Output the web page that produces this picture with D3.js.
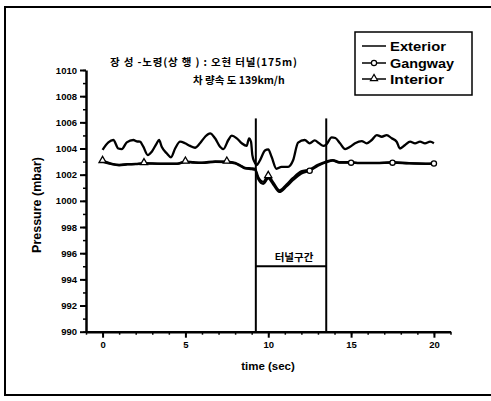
<!DOCTYPE html>
<html><head><meta charset="utf-8">
<script src="https://cdn.jsdelivr.net/npm/d3@7"></script>
<style>
body{margin:0;background:#fff;}
svg text{font-family:"Liberation Sans",Arial,sans-serif;font-weight:bold;fill:#000;}
.kr{font-family:"Noto Sans CJK KR","Liberation Sans",sans-serif;}
</style></head><body>
<script>
const titleLine1 = "장 성 -노령(상 행 ) : 오현 터널(175m)";
const titleLine2 = "차 량속 도  139km/h";
const seriesNames = ["Exterior","Gangway","Interior"];
const xTicks = [0,5,10,15,20];
const yTicks = [990,992,994,996,998,1000,1002,1004,1006,1008,1010];
const tunnelStart = 9.25, tunnelEnd = 13.5, tunnelTop = 1006.3, tunnelLevel = 995;
const tunnelLabel = "터널구간";

const extTime = [0,0.35,0.65,0.95,1.16,1.46,1.86,2.06,2.26,2.46,2.73,2.97,3.27,3.41,3.57,3.87,4.13,4.38,4.68,4.98,5.28,5.58,5.88,6.19,6.49,6.79,7.09,7.29,7.59,7.8,8.1,8.4,8.7,8.84,8.96,9.04,9.16,9.3,9.5,9.8,10.0,10.2,10.5,10.8,11.2,11.5,11.8,12.2,12.5,12.8,13.07,13.33,13.5,13.83,14.05,14.33,14.64,14.94,15.24,15.64,15.94,16.25,16.55,16.85,17.15,17.45,17.75,17.95,18.26,18.56,18.86,19.16,19.46,19.77,20.0];
const extValues = [1003.9,1004.47,1004.65,1004.0,1003.96,1004.47,1004.65,1004.55,1004.52,1004.14,1003.5,1003.76,1004.4,1004.65,1004.14,1003.63,1003.33,1004.0,1004.52,1004.4,1004.2,1004.06,1004.4,1004.9,1005.16,1004.78,1004.14,1003.96,1004.65,1004.98,1004.78,1004.4,1004.2,1004.78,1004.52,1003.5,1003.0,1002.74,1003.1,1003.85,1003.94,1003.37,1002.45,1002.6,1002.6,1003.1,1004.45,1004.65,1004.4,1004.62,1004.4,1004.2,1004.3,1004.85,1004.8,1004.4,1003.96,1004.14,1004.4,1004.57,1004.4,1004.65,1005.03,1004.9,1005.03,1004.78,1004.52,1004.0,1004.27,1004.52,1004.4,1004.52,1004.4,1004.52,1004.4];

const intTime = [0,0.5,1.0,1.5,2.0,2.5,3.5,4.5,5.0,5.5,6.0,6.8,7.5,8.0,8.3,8.6,9.0,9.2,9.4,9.7,10.0,10.3,10.67,11.1,11.5,12.0,12.5,13.0,13.5,13.9,14.3,15.0,15.5,16.5,17.5,18.5,19.5,20.0];
const intValues = [1003.05,1002.85,1002.75,1002.8,1002.82,1002.88,1002.85,1002.85,1003.0,1002.95,1002.92,1003.02,1003.0,1002.9,1002.72,1002.52,1002.48,1002.45,1001.8,1001.45,1001.9,1001.4,1000.8,1001.25,1001.75,1002.25,1002.4,1002.75,1003.0,1003.12,1002.95,1002.95,1002.9,1002.9,1002.95,1002.88,1002.85,1002.87];

const gangTime = [0,0.5,1.0,1.5,2.0,2.5,3.5,4.5,5.0,5.5,6.0,6.8,7.5,8.0,8.3,8.6,9.0,9.2,9.4,9.7,10.0,10.3,10.67,11.1,11.5,12.0,12.5,13.0,13.5,13.9,14.3,15.0,15.5,16.5,17.5,18.5,19.5,20.0];
const gangValues = [1003.0,1002.82,1002.72,1002.78,1002.8,1002.85,1002.83,1002.83,1002.97,1002.92,1002.9,1002.98,1002.97,1002.86,1002.68,1002.48,1002.42,1002.38,1001.65,1001.3,1001.72,1001.25,1000.68,1001.1,1001.6,1002.1,1002.3,1002.68,1002.95,1003.08,1002.92,1002.92,1002.88,1002.88,1002.92,1002.86,1002.83,1002.85];

const markerTimes = [0,2.5,5,7.5,10,12.5,15,17.5,20];

const W = 491, H = 401;
const svg = d3.select("body").append("svg").attr("width",W).attr("height",H);

// outer frame
svg.append("rect").attr("x",5).attr("y",7).attr("width",W).attr("height",388)
  .attr("fill","none").attr("stroke","#000").attr("stroke-width",2);

const x = d3.scaleLinear().domain([-1,21]).range([86,450.5]);
const y = d3.scaleLinear().domain([990,1010]).range([331.7,70]);

// minor ticks
const xMinor = d3.range(-1,22,1);
svg.append("g").attr("transform",`translate(0,${y(990)})`)
  .call(d3.axisBottom(x).tickValues(xMinor).tickSize(3).tickFormat(""))
  .call(g=>g.select(".domain").remove())
  .selectAll("line").attr("stroke-width",1.5);
const yMinor = d3.range(990,1011,1);
svg.append("g").attr("transform",`translate(${x(-1)},0)`)
  .call(d3.axisLeft(y).tickValues(yMinor).tickSize(3).tickFormat(""))
  .call(g=>g.select(".domain").remove())
  .selectAll("line").attr("stroke-width",1.5);

// major axes
const xAxis = svg.append("g").attr("transform",`translate(0,${y(990)})`)
  .call(d3.axisBottom(x).tickValues(xTicks).tickFormat(d3.format("d")).tickSize(6).tickSizeOuter(0).tickPadding(4));
const yAxis = svg.append("g").attr("transform",`translate(${x(-1)},0)`)
  .call(d3.axisLeft(y).tickValues(yTicks).tickFormat(d3.format("d")).tickSize(6).tickSizeOuter(0).tickPadding(3));
[xAxis,yAxis].forEach(a=>{
  a.select(".domain").attr("stroke-width",2.5);
  a.selectAll(".tick line").attr("stroke-width",2);
  a.selectAll("text").style("font-size","9.5px").style("font-weight","bold").attr("font-family","Liberation Sans");
});

// axis labels
svg.append("text").attr("x",268).attr("y",370).attr("text-anchor","middle")
  .style("font-size","11.5px").text("time (sec)");
svg.append("text").attr("transform","translate(41,205) rotate(-90)").attr("text-anchor","middle")
  .style("font-size","12.5px").text("Pressure (mbar)");

// tunnel markers
const tun = svg.append("g").attr("stroke","#000").attr("stroke-width",2);
tun.append("line").attr("x1",x(tunnelStart)).attr("x2",x(tunnelStart)).attr("y1",y(tunnelTop)).attr("y2",y(990));
tun.append("line").attr("x1",x(tunnelEnd)).attr("x2",x(tunnelEnd)).attr("y1",y(tunnelTop)).attr("y2",y(990));
tun.append("line").attr("x1",x(tunnelStart)).attr("x2",x(tunnelEnd)).attr("y1",y(tunnelLevel)).attr("y2",y(tunnelLevel));
svg.append("text").attr("class","kr").attr("x",x((tunnelStart+tunnelEnd)/2)+3).attr("y",y(tunnelLevel)-5)
  .attr("text-anchor","middle").style("font-size","10.5px").text(tunnelLabel);

// lines
const line = d3.line().x(d=>x(d[0])).y(d=>y(d[1])).curve(d3.curveMonotoneX);
const ext = extTime.map((t,i)=>[t,extValues[i]]);
const intr = intTime.map((t,i)=>[t,intValues[i]]);
const gang = gangTime.map((t,i)=>[t,gangValues[i]]);
[ext,gang,intr].forEach(data=>{
  svg.append("path").datum(data).attr("d",line).attr("fill","none")
    .attr("stroke","#000").attr("stroke-width",2.3).attr("stroke-linejoin","round");
});

function interp(arrT, arrV, t){
  for(let i=0;i<arrT.length-1;i++){
    if(t>=arrT[i] && t<=arrT[i+1]){
      const f=(t-arrT[i])/(arrT[i+1]-arrT[i]);
      return arrV[i]+f*(arrV[i+1]-arrV[i]);
    }
  }
  return arrV[arrV.length-1];
}
// markers
markerTimes.forEach((t,i)=>{
  if(i<5){
    const v = interp(intTime,intValues,t);
    svg.append("path").attr("d",d3.symbol(d3.symbolTriangle,22)())
      .attr("transform",`translate(${x(t)},${y(v)-0.5})`)
      .attr("fill","#fff").attr("stroke","#000").attr("stroke-width",1.3);
  } else {
    const v = interp(gangTime,gangValues,t);
    svg.append("circle").attr("cx",x(t)).attr("cy",y(v)).attr("r",2.6)
      .attr("fill","#fff").attr("stroke","#000").attr("stroke-width",1.3);
  }
});

// title
svg.append("text").attr("class","kr").attr("x",110).attr("y",66).style("font-size","10.5px")
  .attr("textLength",187).attr("lengthAdjust","spacing").text(titleLine1);
svg.append("text").attr("class","kr").attr("x",193).attr("y",84).style("font-size","10.5px")
  .text(titleLine2);

// legend
const lg = svg.append("g");
lg.append("rect").attr("x",355).attr("y",32).attr("width",117).attr("height",63)
  .attr("fill","#fff").attr("stroke","#000").attr("stroke-width",1.5);
const ly = [46,63,79];
const lw = [56,64,54];
seriesNames.forEach((n,i)=>{
  lg.append("line").attr("x1",362).attr("x2",386).attr("y1",ly[i]).attr("y2",ly[i])
    .attr("stroke","#000").attr("stroke-width",1.5);
  if(i===1) lg.append("circle").attr("cx",374).attr("cy",ly[i]).attr("r",2.6)
    .attr("fill","#fff").attr("stroke","#000").attr("stroke-width",1.2);
  if(i===2) lg.append("path").attr("d",d3.symbol(d3.symbolTriangle,22)())
    .attr("transform",`translate(374,${ly[i]-0.5})`).attr("fill","#fff").attr("stroke","#000").attr("stroke-width",1.2);
  lg.append("text").attr("x",390).attr("y",ly[i]+4.5).style("font-size","12.5px")
    .attr("textLength",lw[i]).attr("lengthAdjust","spacingAndGlyphs").text(n);
});
</script>
</body></html>
